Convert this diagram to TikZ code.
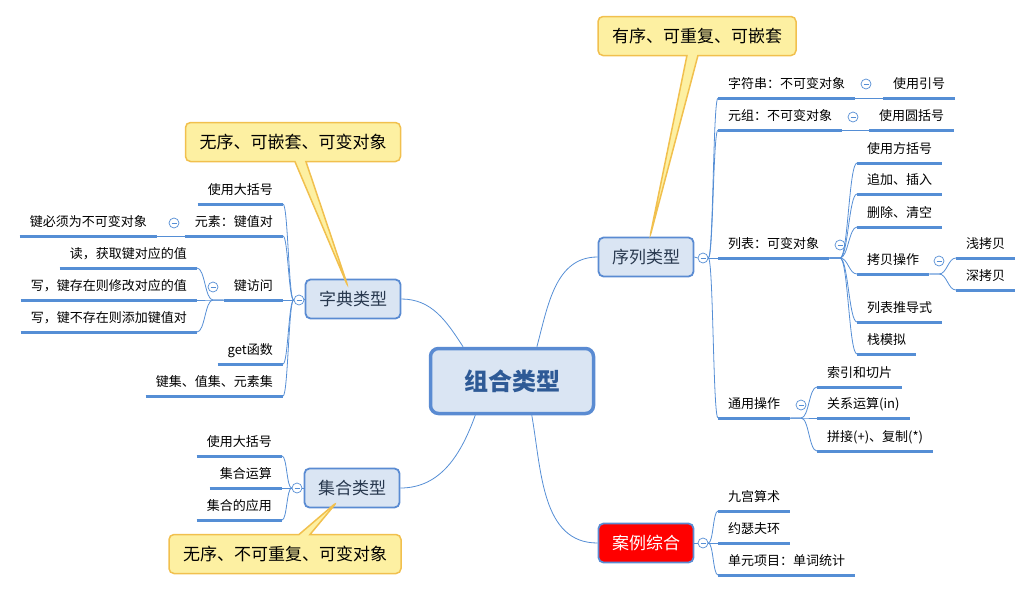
\documentclass[tikz,border=0pt]{standalone}
\usepackage{fontspec}
\setmainfont{Noto Sans CJK SC}
\usepackage{xcolor}
\usetikzlibrary{calc, shapes.callouts}

\definecolor{lineblue}{HTML}{558ED5}
\definecolor{topicfill}{HTML}{DAE5F3}
\definecolor{topicedge}{HTML}{5A8BD2}
\definecolor{topictext}{HTML}{28384E}
\definecolor{hubtext}{HTML}{2E5A96}
\definecolor{notefill}{HTML}{FDF0A2}
\definecolor{noteedge}{HTML}{F1C04E}
\definecolor{casered}{HTML}{FF0000}

\begin{document}
\begin{tikzpicture}[x=1pt, y=-1pt,
    hub/.style={draw=topicedge, line width=3.5pt, fill=topicfill, rounded corners=8pt,
        minimum width=163pt, minimum height=65pt, text=hubtext, font=\fontsize{24}{28}\selectfont\bfseries},
    topic/.style={draw=topicedge, line width=1.8pt, fill=topicfill, rounded corners=5pt,
        minimum width=95pt, minimum height=39pt, text=topictext, font=\fontsize{17}{20}\selectfont},
    note/.style={rectangle callout, draw=noteedge, line width=1.5pt, fill=notefill, rounded corners=5pt,
        minimum height=39pt, callout pointer width=11pt, font=\fontsize{17}{20}\selectfont},
    item/.style={inner xsep=10pt, inner ysep=6pt, text height=10pt, text depth=3pt,
        font=\fontsize{13}{15}\selectfont},
    itemL/.style={item, anchor=south east},
    itemR/.style={item, anchor=south west},
    uline/.style={draw=lineblue, line width=3pt},
    link/.style={draw=lineblue, line width=0.8pt},
    fold/.style={circle, draw=lineblue, fill=white, line width=0.7pt, minimum size=10pt, inner sep=0pt,
        path picture={\draw[lineblue, line width=0.8pt] ([xshift=2.5pt]path picture bounding box.west)
            -- ([xshift=-2.5pt]path picture bounding box.east);}},
    branch/.style={to path={.. controls ($(\tikztostart)+(#1,0)$) and ($(\tikztotarget)-(#1,0)$) .. (\tikztotarget)}}]

  \useasboundingbox (0,0) rectangle (1035,592);

  % centre and main topics
  \node[hub] (hub) at (512,381) {组合类型};
  \node[topic] (dict) at (353,299) {字典类型};
  \node[topic] (set) at (352,488) {集合类型};
  \node[topic] (seq) at (646,257) {序列类型};
  \node[topic, fill=casered, text=white] (case) at (646,543) {案例综合};

  \draw[link] (dict.east) to[out=0, in=123] (hub.145);
  \draw[link] (set.east) to[out=0, in=-110] (hub.223);
  \draw[link] (hub.54) to[out=75, in=180] (seq.west);
  \draw[link] (hub.-60) to[out=-80, in=180] (case.west);

  % collapse markers
  \node[fold] (fd) at (299,300) {};
  \node[fold] (fs) at (297,488) {};
  \node[fold] (fq) at (703,258) {};
  \node[fold] (fc) at (703,543) {};
  \node[fold] (fd2) at (174,223) {};
  \node[fold] (fd3) at (213,287) {};
  \node[fold] (fq1) at (866,84) {};
  \node[fold] (fq2) at (853,117) {};
  \node[fold] (fq3) at (840,245) {};
  \node[fold] (fq34) at (939,261) {};
  \node[fold] (fq4) at (801,405) {};
  \coordinate (d3end) at (213,300);
  \coordinate (q3end) at (840,258);
  \coordinate (q34end) at (939,274);
  \coordinate (q4end) at (801,418);

  % dictionary
  \node[itemL] (d1) at (283,204) {使用大括号};
  \node[itemL] (d2) at (283,236) {元素：键值对};
  \node[itemL] (d3) at (283,300) {键访问};
  \node[itemL] (d4) at (283,364) {get函数};
  \node[itemL] (d5) at (283,396) {键集、值集、元素集};
  \node[itemL] (d21) at (157,236) {键必须为不可变对象};
  \node[itemL] (d31) at (197,268) {读，获取键对应的值};
  \node[itemL] (d32) at (197,300) {写，键存在则修改对应的值};
  \node[itemL] (d33) at (197,332) {写，键不存在则添加键值对};

  % set
  \node[itemL] (s1) at (282,456) {使用大括号};
  \node[itemL] (s2) at (282,488) {集合运算};
  \node[itemL] (s3) at (282,520) {集合的应用};

  % sequence
  \node[itemR] (q1) at (718,98) {字符串：不可变对象};
  \node[itemR] (q2) at (718,130) {元组：不可变对象};
  \node[itemR] (q3) at (718,258) {列表：可变对象};
  \node[itemR] (q4) at (718,418) {通用操作};
  \node[itemR] (q11) at (883,98) {使用引号};
  \node[itemR] (q21) at (869,130) {使用圆括号};
  \node[itemR] (q31) at (857,163) {使用方括号};
  \node[itemR] (q32) at (857,194) {追加、插入};
  \node[itemR] (q33) at (857,227) {删除、清空};
  \node[itemR] (q34) at (857,274) {拷贝操作};
  \node[itemR] (q35) at (857,322) {列表推导式};
  \node[itemR] (q36) at (857,354) {栈模拟};
  \node[itemR] (q341) at (956,258) {浅拷贝};
  \node[itemR] (q342) at (956,290) {深拷贝};
  \node[itemR] (q41) at (817,387) {索引和切片};
  \node[itemR] (q42) at (817,418) {关系运算(in)};
  \node[itemR] (q43) at (817,451) {拼接(+)、复制(*)};

  % examples
  \node[itemR] (c1) at (718,511) {九宫算术};
  \node[itemR] (c2) at (718,543) {约瑟夫环};
  \node[itemR] (c3) at (718,575) {单元项目：单词统计};

  % thin branch lines
  \draw[link] (dict.west) -- (fd.east);
  \foreach \n in {d1,d2,d3,d4,d5} \draw[link] (fd.west) to[branch=-5] (\n.south east);
  \draw[link] (d2.south west) -- (d21.south east);
  \foreach \n in {d31,d32,d33} \draw[link] (d3.south west) -- (d3end) to[branch=-8] (\n.south east);
  \draw[link] (set.west) -- (fs.east);
  \foreach \n in {s1,s2,s3} \draw[link] (fs.west) to[branch=-5] (\n.south east);
  \draw[link] (seq.east) -- (fq.west);
  \foreach \n in {q1,q2,q3,q4} \draw[link] (fq.east) to[branch=5] (\n.south west);
  \draw[link] (q1.south east) -- (q11.south west);
  \draw[link] (q2.south east) -- (q21.south west);
  \foreach \n in {q31,q32,q33,q34,q35,q36} \draw[link] (q3.south east) -- (q3end) to[branch=8] (\n.south west);
  \foreach \n in {q341,q342} \draw[link] (q34.south east) -- (q34end) to[branch=8] (\n.south west);
  \foreach \n in {q41,q42,q43} \draw[link] (q4.south east) -- (q4end) to[branch=8] (\n.south west);
  \draw[link] (case.east) -- (fc.west);
  \foreach \n in {c1,c2,c3} \draw[link] (fc.east) to[branch=5] (\n.south west);

  % underlines
  \foreach \n in {d1,d2,d3,d4,d5,d21,d31,d32,d33,s1,s2,s3,q1,q2,q3,q4,q11,q21,
      q31,q32,q33,q34,q35,q36,q341,q342,q41,q42,q43,c1,c2,c3}
    \draw[uline] (\n.south west) -- (\n.south east);

  % notes
  \node[note, minimum width=198pt, callout absolute pointer={($(seq.north)+(4,0)$)}] (seqnote)
    at (697,36) {有序、可重复、可嵌套};
  \node[note, minimum width=215pt, callout absolute pointer={($(dict.north)+(-5,8)$)}] (dictnote)
    at (293,142) {无序、可嵌套、可变对象};
  \node[note, minimum width=232pt, callout absolute pointer={($(set.center)+(-15,14)$)}] (setnote)
    at (285,554) {无序、不可重复、可变对象};
\end{tikzpicture}
\end{document}
